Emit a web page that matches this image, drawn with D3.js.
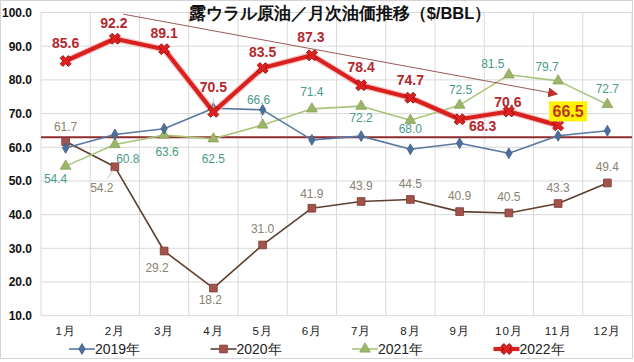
<!DOCTYPE html>
<html>
<head>
<meta charset="utf-8">
<script src="https://cdn.jsdelivr.net/npm/d3@7"></script>
<style>
  body { margin: 0; background: #fff; }
  svg text { font-family: Arial, "Liberation Sans", sans-serif; }
</style>
</head>
<body>
<div id="chart"></div>
<script>
// data
var months = ["1月", "2月", "3月", "4月", "5月", "6月", "7月", "8月", "9月", "10月", "11月", "12月"];
var yTicks = [10, 20, 30, 40, 50, 60, 70, 80, 90, 100];
var years = ["2019年", "2020年", "2021年", "2022年"];
var v2019 = [59.8, 63.8, 65.5, 71.6, 71.1, 62.2, 63.3, 59.4, 61.2, 58.2, 63.4, 64.9];
var v2020 = [61.7, 54.2, 29.2, 18.2, 31.0, 41.9, 43.9, 44.5, 40.9, 40.5, 43.3, 49.4];
var v2021 = [54.4, 60.8, 63.6, 62.5, 66.6, 71.4, 72.2, 68.0, 72.5, 81.5, 79.7, 72.7];
var v2022 = [85.6, 92.2, 89.1, 70.5, 83.5, 87.3, 78.4, 74.7, 68.3, 70.6, 66.5];
var refLevel = 63.0;               // horizontal reference line
var trendFrom = [1.17, 99.5];      // [month index, value]
var trendTo = [9.98, 75.8];

// label placement (offset of label centre from point, px)
var off2020 = [[0,-15],[-13,21],[-7,17],[-3,12],[0,-16],[0,-15],[0,-16],[0,-16],[0,-16],[0,-16],[0,-16],[0,-16]];
var off2021 = [[-10,13],[13,14],[3,17],[0,20],[-4,-25],[0,-17],[0,12],[0,8],[1,-15],[-16,-11],[-11,-14],[0,-16]];
var off2022 = [[0,-18],[-1,-16],[0,-16],[0,-25],[0,-16],[-1,-18],[0,-18],[0,-18],[23,7],[-1,-10],[10,-14]];

var W = 634, H = 362;
var margin = { top: 12.5, right: 2, bottom: 46.3, left: 41 };
var width = W - margin.left - margin.right,
    height = H - margin.top - margin.bottom;

var svg = d3.select("#chart").append("svg")
  .attr("width", W).attr("height", H);

// outer frame
svg.append("rect")
  .attr("x", 0.5).attr("y", 0.5)
  .attr("width", W - 2).attr("height", H - 4)
  .attr("fill", "#fff").attr("stroke", "#d4d4d4");

var g = svg.append("g")
  .attr("transform", "translate(" + margin.left + "," + margin.top + ")");

var x = d3.scaleBand().domain(months).range([0, width]).padding(0);
var xi = d3.scaleLinear().domain([0, 11])
  .range([x.bandwidth() / 2, width - x.bandwidth() / 2]);
var y = d3.scaleLinear().domain([10, 100]).range([height, 0]);

// grid
g.selectAll(".hgrid").data(yTicks).join("line")
  .attr("x1", 0).attr("x2", width)
  .attr("y1", d => y(d)).attr("y2", d => y(d))
  .attr("stroke", "#d9d9d9");
g.selectAll(".vgrid").data(months.concat(["end"])).join("line")
  .attr("x1", (d, i) => i * x.bandwidth()).attr("x2", (d, i) => i * x.bandwidth())
  .attr("y1", 0).attr("y2", height)
  .attr("stroke", "#d9d9d9");

// y axis
var yAxis = d3.axisLeft(y).tickValues(yTicks).tickFormat(d3.format(".1f")).tickSize(0).tickPadding(9);
var ya = g.append("g").call(yAxis);
ya.select(".domain").remove();
ya.selectAll("text").attr("font-size", 12).attr("font-weight", "bold").attr("fill", "#111");

// x axis
var xAxis = d3.axisBottom(x).tickSize(0).tickPadding(11);
var xa = g.append("g").attr("transform", "translate(0," + height + ")").call(xAxis);
xa.select(".domain").remove();
xa.selectAll("text")
  .attr("font-family", "'Noto Sans CJK JP', sans-serif")
  .attr("font-size", 11.5).attr("fill", "#222").attr("letter-spacing", 1);

// title
svg.append("text")
  .attr("x", 340).attr("y", 19)
  .attr("text-anchor", "middle")
  .attr("font-family", "'Noto Sans CJK JP', sans-serif")
  .attr("font-weight", "bold").attr("font-size", 16.5).attr("fill", "#111")
  .text("露ウラル原油／月次油価推移（$/BBL）");

// reference line
g.append("line")
  .attr("x1", 0).attr("x2", width)
  .attr("y1", y(refLevel)).attr("y2", y(refLevel))
  .attr("stroke", "#8e2b2b").attr("stroke-width", 2);

var line = d3.line().x((d, i) => xi(i)).y(d => y(d));

var series = [
  { name: years[0], values: v2019, line: "#5878a3", fill: "#4d6f9c", stroke: "#3f5f88", lw: 1.6, sym: d3.symbolDiamond, size: 34 },
  { name: years[1], values: v2020, line: "#5e3f2f", fill: "#a4534b", stroke: "#7a3a33", lw: 1.6, sym: d3.symbolSquare, size: 60 },
  { name: years[2], values: v2021, line: "#abc47c", fill: "#9db569", stroke: "#8aa257", lw: 1.6, sym: d3.symbolTriangle, size: 50 },
  { name: years[3], values: v2022, line: "#d9201e", fill: "#e0201f", stroke: "#8b0b0b", lw: 4.2, sym: d3.symbolCross, size: 75, rot: 45, halo: true }
];

function drawMarkers(sel, s, cx, cy) {
  sel.append("path")
    .attr("d", d3.symbol().type(s.sym).size(s.size)())
    .attr("transform", "translate(" + cx + "," + cy + ")" + (s.rot ? " rotate(" + s.rot + ")" : ""))
    .attr("fill", s.fill).attr("stroke", s.stroke).attr("stroke-width", 0.8);
}

// draw 2020, 2021, 2019 then 2022 on top
[1, 2, 0, 3].forEach(function (k) {
  var s = series[k];
  var sg = g.append("g");
  if (s.halo) {
    sg.append("path").datum(s.values)
      .attr("fill", "none").attr("stroke", "#f4a0a0").attr("stroke-opacity", 0.6)
      .attr("stroke-width", s.lw + 2.5).attr("stroke-linejoin", "round")
      .attr("d", line);
  }
  sg.append("path").datum(s.values)
    .attr("fill", "none").attr("stroke", s.line)
    .attr("stroke-width", s.lw).attr("stroke-linejoin", "round")
    .attr("d", line);
  s.values.forEach(function (v, i) { drawMarkers(sg, s, xi(i), y(v)); });
});

// trend arrow
svg.append("defs").append("marker")
  .attr("id", "arr").attr("viewBox", "0 0 10 10")
  .attr("refX", 9).attr("refY", 5)
  .attr("markerWidth", 10).attr("markerHeight", 10)
  .attr("markerUnits", "userSpaceOnUse")
  .attr("orient", "auto")
  .append("path").attr("d", "M0,0L10,5L0,10Z").attr("fill", "#c0302a");
g.append("line")
  .attr("x1", xi(trendFrom[0])).attr("y1", y(trendFrom[1]))
  .attr("x2", xi(trendTo[0])).attr("y2", y(trendTo[1]))
  .attr("stroke", "#9a5a5a").attr("stroke-width", 1)
  .attr("marker-end", "url(#arr)");

// leader lines for displaced labels
var leaders = [[off2020, v2020, 1], [off2022, v2022, 3], [off2021, v2021, 4], [off2022, v2022, 10]];
leaders.forEach(function (l) {
  var i = l[2], o = l[0][i];
  var px = xi(i), py = y(l[1][i]);
  g.append("line")
    .attr("x1", px + o[0] * 0.55).attr("y1", py + o[1] * 0.55)
    .attr("x2", px + o[0] * 0.15).attr("y2", py + o[1] * 0.15)
    .attr("stroke", "#b8b8b8").attr("stroke-width", 0.8);
});

// data labels
function labels(vals, offs, color, size, weight) {
  g.append("g").selectAll("text").data(vals).join("text")
    .attr("x", (d, i) => xi(i) + offs[i][0])
    .attr("y", (d, i) => y(d) + offs[i][1])
    .attr("dy", "0.36em")
    .attr("text-anchor", "middle")
    .attr("font-size", size).attr("font-weight", weight)
    .attr("fill", color)
    .text(d => d3.format(".1f")(d));
}
labels(v2020, off2020, "#8a8272", 12, "normal");
labels(v2021, off2021, "#4b9a88", 12, "normal");

// highlight box behind the last 2022 value
var last = v2022.length - 1;
var lx = xi(last) + off2022[last][0], ly = y(v2022[last]) + off2022[last][1];
g.append("rect")
  .attr("x", lx - 19).attr("y", ly - 10).attr("width", 38).attr("height", 20)
  .attr("fill", "#fff200");
g.append("g").selectAll("text").data(v2022).join("text")
  .attr("x", (d, i) => xi(i) + off2022[i][0])
  .attr("y", (d, i) => y(d) + off2022[i][1])
  .attr("dy", "0.36em")
  .attr("text-anchor", "middle")
  .attr("font-size", (d, i) => i === last ? 16 : 14)
  .attr("font-weight", "bold")
  .attr("fill", (d, i) => i === last ? "#c0341d" : "#b3282d")
  .text(d => d3.format(".1f")(d));

// legend
var leg = svg.append("g").attr("transform", "translate(69,349)");
series.forEach(function (s, k) {
  var lg = leg.append("g").attr("transform", "translate(" + k * 141.5 + ",0)");
  lg.append("line").attr("x1", 0).attr("x2", 26).attr("y1", 0).attr("y2", 0)
    .attr("stroke", s.line).attr("stroke-width", s.lw);
  drawMarkers(lg, s, 13, 0);
  lg.append("text").attr("x", 26).attr("y", 0).attr("dy", "0.36em")
    .attr("font-size", 14).attr("fill", "#222").text(s.name);
});
</script>
</body>
</html>
